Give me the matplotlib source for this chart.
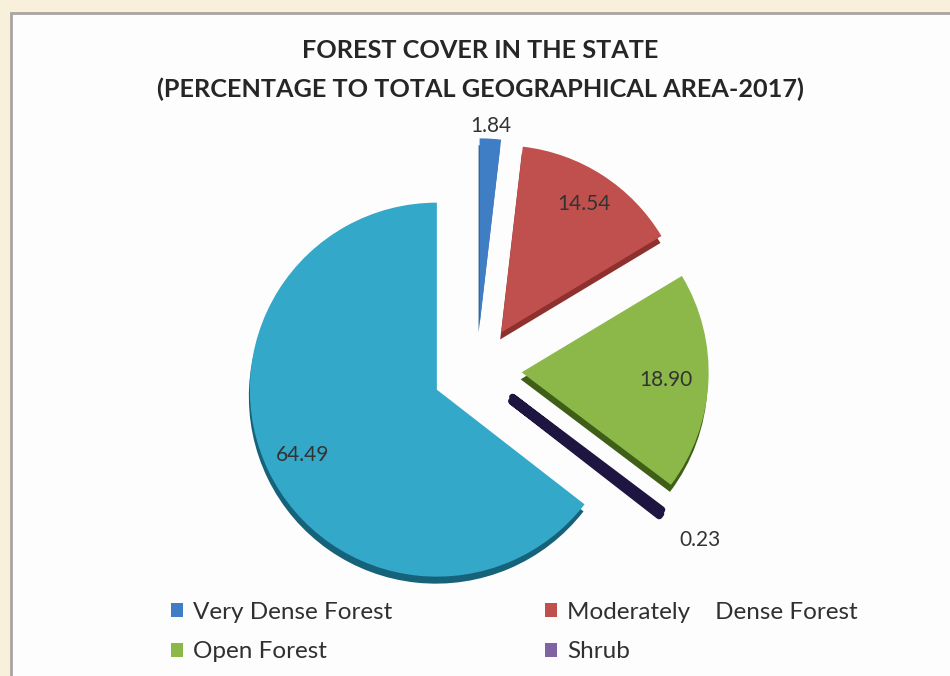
import matplotlib
matplotlib.use("Agg")
import matplotlib.pyplot as plt
import numpy as np
from matplotlib.patches import Rectangle, Patch

# forest cover data (percent of geographical area, 2017)
categories = ["Very Dense Forest", "Moderately    Dense Forest", "Open Forest", "Shrub", "Non Forest"]
values = [1.84, 14.54, 18.90, 0.23, 64.49]
legend_order = [0, 2, 1, 3]  # legend fills column by column

top_colors = ["#3f7ec4", "#c0504d", "#8cb849", "#2b1d55", "#33a8c9"]
side_colors = ["#2a5a90", "#8e302e", "#3f5f18", "#1e1540", "#16627a"]
legend_colors = ["#3f7ec4", "#c0504d", "#8cb849", "#8064a2"]

# where each value label sits, as a fraction of the radius
label_dist = [1.07, 0.82, 0.77, 1.26, 0.80]

plt.rcParams['font.family'] = ['Lato', 'DejaVu Sans']

fig = plt.figure(figsize=(9.5, 6.76), dpi=100, facecolor="#f8f0da")
ax = fig.add_axes([0, 0, 1, 1])

cx, cy = 477.0, 676 - 370.0
r = 187.0
explode = [44.7] * len(values)  # pie() offsets in data units

# side faces first, pushed down a bit for the 3d look
sides, _ = ax.pie(values, colors=side_colors, startangle=90, counterclock=False,
                  center=(cx - 1, cy - 7), radius=r, explode=explode,
                  wedgeprops=dict(linewidth=0), normalize=True)
wedges, _ = ax.pie(values, colors=top_colors, startangle=90, counterclock=False,
                   center=(cx, cy), radius=r, explode=explode,
                   wedgeprops=dict(linewidth=0), normalize=True)

# the shrub slice is a sliver, give it some body
sx, sy = sides[3].center
sides[3].set_center((sx, sy + 3))
for w in (sides[3], wedges[3]):
    w.set_edgecolor(side_colors[3])
    w.set_linewidth(5)
    w.set_joinstyle("round")

# value labels
for w, v, d in zip(wedges, values, label_dist):
    ang = np.deg2rad((w.theta1 + w.theta2) / 2)
    x0, y0 = w.center
    ax.text(x0 + d * r * np.cos(ang), y0 + d * r * np.sin(ang), "%.2f" % v,
            ha="center", va="center", fontsize=15, color="#333333")

ax.set_xlim(0, 950)
ax.set_ylim(0, 676)
ax.set_aspect("equal")
ax.axis("off")

# white chart panel with grey border
ax.add_patch(Rectangle((11, -20), 960, 676 - 13 + 20, facecolor="#fdfdfd",
                       edgecolor="#a8a4a0", linewidth=2, zorder=-5))

ax.text(480, 676 - 51, "FOREST COVER IN THE STATE", ha="center", va="center",
        fontsize=18.2, fontweight="bold", color="#262626")
ax.text(480, 676 - 89, "(PERCENTAGE TO TOTAL GEOGRAPHICAL AREA-2017)", ha="center", va="center",
        fontsize=18.2, fontweight="bold", color="#262626")

handles = [Patch(facecolor=legend_colors[i], edgecolor="none") for i in legend_order]
labels = [categories[i] for i in legend_order]
leg = ax.legend(handles, labels, ncol=2, loc="upper left", bbox_to_anchor=(171 / 950, 1 - 602 / 676),
                bbox_transform=fig.transFigure, frameon=False, fontsize=17.5,
                borderpad=0, borderaxespad=0,
                handlelength=0.5, handleheight=0.5, handletextpad=0.4,
                columnspacing=6.3, labelspacing=0.75, labelcolor="#303030")

fig.savefig("out.png", dpi=100, facecolor=fig.get_facecolor())
